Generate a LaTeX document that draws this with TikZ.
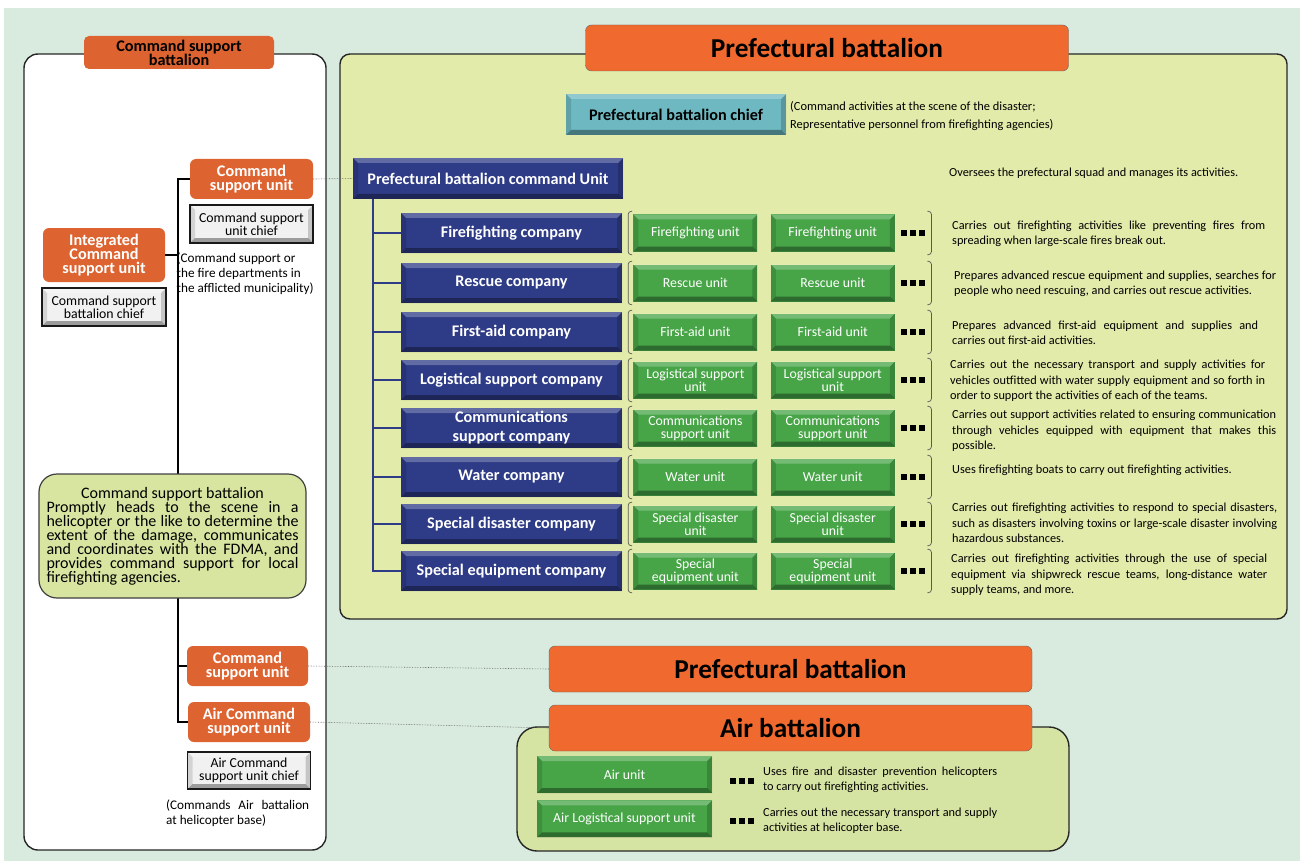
\documentclass[tikz,border=0pt]{standalone}
\usepackage{fontspec}
\setmainfont{Carlito}
\usepackage{tikz}
\usetikzlibrary{positioning}

\setlength{\parindent}{0pt}
\setlength{\lineskiplimit}{-50pt}

\definecolor{bgpale}{HTML}{D9EBDF}
\definecolor{panelyel}{HTML}{E2EBAA}
\definecolor{airpanel}{HTML}{D6E4A3}
\definecolor{descgreen}{HTML}{D7E5A1}
\definecolor{orangeD}{HTML}{DD6431}
\definecolor{orangeL}{HTML}{F06A2F}
\definecolor{navy}{HTML}{2E3B86}
\definecolor{unitgreen}{HTML}{47A547}
\definecolor{tealbox}{HTML}{6DB8C1}
\definecolor{chiefgray}{HTML}{F1F1F1}

\newcommand{\fdesc}{\fontsize{12.3}{15.3}\selectfont}
\newcommand{\fnote}{\fontsize{13.2}{15}\selectfont}
\newcommand{\funit}{\fontsize{13.8}{13.3}\selectfont}
\newcommand{\fchief}{\fontsize{13.8}{13.3}\selectfont}
\newcommand{\fcomp}{\fontsize{16.2}{19}\selectfont\bfseries}
\newcommand{\forange}{\fontsize{16.2}{14}\selectfont\bfseries}
\newcommand{\fpara}{\fontsize{16}{14}\selectfont}
\newcommand{\fbig}{\fontsize{27.3}{30}\selectfont\bfseries}

\newcommand{\sqdots}{\rule{6pt}{6pt}\hspace{3pt}\rule{6pt}{6pt}\hspace{3pt}\rule{6pt}{6pt}}

% brackets round the units of one row
\newcommand{\rowbrackets}[2]{%
  \draw[brk] ([xshift=-1pt,yshift=3pt]#1.north west) -- ([xshift=-5pt,yshift=3pt]#1.north west)
    -- ([xshift=-5pt,yshift=-3pt]#1.south west) -- ([xshift=-1pt,yshift=-3pt]#1.south west);
  \draw[brk] ([xshift=2pt,yshift=3pt]#2.north east) -- ([xshift=6pt,yshift=3pt]#2.north east)
    -- ([xshift=6pt,yshift=-3pt]#2.south east) -- ([xshift=2pt,yshift=-3pt]#2.south east);}

\tikzset{
  panelframe/.style={draw=black!85, line width=1.4pt},
  bevel/.style={path picture={
    \fill[black,opacity=.35] (path picture bounding box.south west) -- (path picture bounding box.south east)
      -- ([xshift=-5pt,yshift=5pt]path picture bounding box.south east) -- ([xshift=5pt,yshift=5pt]path picture bounding box.south west) -- cycle;
    \fill[black,opacity=.18] (path picture bounding box.south east) -- (path picture bounding box.north east)
      -- ([xshift=-5pt,yshift=-5pt]path picture bounding box.north east) -- ([xshift=-5pt,yshift=5pt]path picture bounding box.south east) -- cycle;
    \fill[white,opacity=.25] (path picture bounding box.north west) -- (path picture bounding box.north east)
      -- ([xshift=-5pt,yshift=-5pt]path picture bounding box.north east) -- ([xshift=5pt,yshift=-5pt]path picture bounding box.north west) -- cycle;
    \fill[black,opacity=.12] (path picture bounding box.south west) -- (path picture bounding box.north west)
      -- ([xshift=5pt,yshift=-5pt]path picture bounding box.north west) -- ([xshift=5pt,yshift=5pt]path picture bounding box.south west) -- cycle;
  }},
  cstag/.style={fill=orangeD, rounded corners=5pt, font=\forange, align=center, minimum width=190pt, minimum height=33pt, inner sep=1pt},
  titlebox/.style={fill=orangeL, draw=black!60, rounded corners=6pt, font=\fbig, minimum width=483pt, minimum height=46pt},
  orangeunit/.style={fill=orangeD, rounded corners=6pt, text=white, font=\forange, align=center, minimum width=123pt, minimum height=40pt, inner sep=1pt},
  chiefbox/.style={bevel, fill=chiefgray, draw=black!90, line width=1.6pt, font=\fchief, align=center, minimum width=123pt, minimum height=38pt, inner sep=1pt},
  pbchiefbox/.style={bevel, fill=tealbox, font=\fcomp, minimum width=220pt, minimum height=41pt},
  company/.style={bevel, fill=navy, text=white, font=\fcomp, align=center, minimum width=221pt, minimum height=40pt, inner sep=1pt},
  unit/.style={bevel, fill=unitgreen, text=white, font=\funit, align=center, minimum width=124pt, minimum height=37pt, inner sep=1pt},
  dotsbox/.style={inner sep=0pt, minimum height=37pt},
  desc/.style={font=\fdesc, align=justify, inner sep=0pt, anchor=west},
  treeline/.style={draw=black, line width=1.8pt},
  navline/.style={draw=navy, line width=2.2pt},
  link/.style={draw=black!60, densely dotted, line width=0.6pt},
  brk/.style={draw=black!65, line width=0.7pt, rounded corners=3pt},
}

\begin{document}
\begin{tikzpicture}[x=1pt,y=-1pt]
  \useasboundingbox (0,0) rectangle (1306,861);

  % Panels
  \fill[bgpale] (4,8) rectangle (1300,861);
  \draw[panelframe, fill=white, rounded corners=14pt] (24,54) rectangle (326,850);
  \draw[panelframe, fill=panelyel, rounded corners=10pt] (340,54) rectangle (1287,619);
  \draw[panelframe, fill=airpanel, rounded corners=20pt] (517,727) rectangle (1069,851);

  % Define nodes
  \node[cstag]                        (csbtag)  at (179,52.5) {Command support\\battalion};
  \node[titlebox]                     (pbtitle) at (827,48)   {Prefectural battalion};
  \node[pbchiefbox]                   (pbchief) at (676,114.5) {Prefectural battalion chief};
  \node[font=\fontsize{12.4}{18}\selectfont, align=left, anchor=west, inner sep=0pt]
                                      (pbchiefx) at (790,116) {(Command activities at the scene of the disaster;\\Representative personnel from firefighting agencies)};
  \node[company, minimum width=270pt, minimum height=41pt] (pbunit) at (488,178.5) {Prefectural battalion command Unit};
  \node[desc]                         (pbunitx) at (949,173) {Oversees the prefectural squad and manages its activities.};

  \node[company]                      (ff)  at (511.5,233) {Firefighting company};
  \node[unit, right=11pt of ff]       (ffa) {Firefighting unit};
  \node[unit, right=13pt of ffa]      (ffb) {Firefighting unit};
  \node[dotsbox, right=6pt of ffb]    (ffd) {\sqdots};
  \node[desc, text width=313pt]       (ffx) at (952,234) {Carries out firefighting activities like preventing fires from\linebreak spreading when large-scale fires break out.};

  \node[company]                      (rc)  at (511.5,283) {Rescue company};
  \node[unit, right=11pt of rc]       (rca) {Rescue unit};
  \node[unit, right=13pt of rca]      (rcb) {Rescue unit};
  \node[dotsbox, right=6pt of rcb]    (rcd) {\sqdots};
  \node[desc, text width=322pt]       (rcx) at (954,283.5) {Prepares advanced rescue equipment and supplies, searches for\linebreak people who need rescuing, and carries out rescue activities.};

  \node[company]                      (fa)  at (511.5,332) {First-aid company};
  \node[unit, right=11pt of fa]       (faa) {First-aid unit};
  \node[unit, right=13pt of faa]      (fab) {First-aid unit};
  \node[dotsbox, right=6pt of fab]    (fad) {\sqdots};
  \node[desc, text width=306pt]       (fax) at (952,333) {Prepares advanced first-aid equipment and supplies and\linebreak carries out first-aid activities.};

  \node[company]                      (ls)  at (511.5,380) {Logistical support company};
  \node[unit, right=11pt of ls]       (lsa) {Logistical support\\unit};
  \node[unit, right=13pt of lsa]      (lsb) {Logistical support\\unit};
  \node[dotsbox, right=6pt of lsb]    (lsd) {\sqdots};
  \node[desc, text width=315pt]       (lsx) at (950,381) {Carries out the necessary transport and supply activities for\linebreak vehicles outfitted with water supply equipment and so forth in\linebreak order to support the activities of each of the teams.};

  \node[company]                      (cm)  at (511.5,428) {Communications\\support company};
  \node[unit, right=11pt of cm]       (cma) {Communications\\support unit};
  \node[unit, right=13pt of cma]      (cmb) {Communications\\support unit};
  \node[dotsbox, right=6pt of cmb]    (cmd) {\sqdots};
  \node[desc, text width=324pt]       (cmx) at (952,431) {Carries out support activities related to ensuring communication\linebreak through vehicles equipped with equipment that makes this\linebreak possible.};

  \node[company]                      (wt)  at (511.5,477) {Water company};
  \node[unit, right=11pt of wt]       (wta) {Water unit};
  \node[unit, right=13pt of wta]      (wtb) {Water unit};
  \node[dotsbox, right=6pt of wtb]    (wtd) {\sqdots};
  \node[desc]                         (wtx) at (952,470) {Uses firefighting boats to carry out firefighting activities.};

  \node[company]                      (sd)  at (511.5,524) {Special disaster company};
  \node[unit, right=11pt of sd]       (sda) {Special disaster\\unit};
  \node[unit, right=13pt of sda]      (sdb) {Special disaster\\unit};
  \node[dotsbox, right=6pt of sdb]    (sdd) {\sqdots};
  \node[desc, text width=325pt]       (sdx) at (952,523) {Carries out firefighting activities to respond to special disasters,\linebreak such as disasters involving toxins or large-scale disaster involving\linebreak hazardous substances.};

  \node[company]                      (se)  at (511.5,571) {Special equipment company};
  \node[unit, right=11pt of se]       (sea) {Special\\equipment unit};
  \node[unit, right=13pt of sea]      (seb) {Special\\equipment unit};
  \node[dotsbox, right=6pt of seb]    (sed) {\sqdots};
  \node[desc, text width=316pt]       (sex) at (951,575) {Carries out firefighting activities through the use of special\linebreak equipment via shipwreck rescue teams, long-distance water\linebreak supply teams, and more.};

  \node[titlebox]                     (pbbottom) at (790.5,669) {Prefectural battalion};
  \node[titlebox]                     (airtitle) at (790.5,728) {Air battalion};
  \node[unit, minimum width=175pt]    (airu)  at (624.5,774.5) {Air unit};
  \node[unit, minimum width=175pt, below=7pt of airu] (airls) {Air Logistical support unit};
  \node[dotsbox, minimum height=0pt]  (airud) at (742,781) {\sqdots};
  \node[dotsbox, minimum height=0pt]  (airlsd) at (742,821) {\sqdots};
  \node[desc, text width=234pt]       (airux) at (763,780) {Uses fire and disaster prevention helicopters\linebreak to carry out firefighting activities.};
  \node[desc, text width=234pt]       (airlsx) at (763,820.5) {Carries out the necessary transport and supply\linebreak activities at helicopter base.};

  \node[orangeunit]                   (csu1) at (251.5,179) {Command\\support unit};
  \node[chiefbox, below=5pt of csu1]  (csu1chief) {Command support\\unit chief};
  \node[orangeunit, minimum width=122pt, minimum height=54pt] (icsu) at (104,255) {Integrated\\Command\\support unit};
  \node[chiefbox, minimum width=124pt, below=5pt of icsu] (csbchief) {Command support\\battalion chief};
  \node[orangeunit, minimum width=121pt] (csu2) at (247.5,666) {Command\\support unit};
  \node[orangeunit, minimum width=122pt] (acsu) at (249,722) {Air Command\\support unit};
  \node[chiefbox, minimum height=37pt, below=9pt of acsu] (acsuchief) {Air Command\\support unit chief};
  \node[font=\fnote, align=justify, text width=143pt, inner sep=0pt, anchor=west] (acsux) at (166,813) {(Commands Air battalion\linebreak at helicopter base)};

  % Connect the nodes
  \coordinate (trunk)  at (178,179);
  \coordinate (navtop) at (373,199);
  \draw[treeline] (csu1.west) -- (trunk) |- (acsu.west);
  \draw[treeline] (icsu.east) -- (icsu.east -| trunk);
  \draw[treeline] (csu2.west) -- (csu2.west -| trunk);

  \draw[navline] (navtop) |- (se.west);
  \draw[navline] (ff.west -| navtop) -- (ff.west);
  \draw[navline] (rc.west -| navtop) -- (rc.west);
  \draw[navline] (fa.west -| navtop) -- (fa.west);
  \draw[navline] (ls.west -| navtop) -- (ls.west);
  \draw[navline] (cm.west -| navtop) -- (cm.west);
  \draw[navline] (wt.west -| navtop) -- (wt.west);
  \draw[navline] (sd.west -| navtop) -- (sd.west);

  \draw[link] (csu1.east) -- (pbunit.west);
  \draw[link] (csu2.east) -- (pbbottom.west);
  \draw[link] (acsu.east) -- (airtitle.west);

  \rowbrackets{ffa}{ffd}
  \rowbrackets{rca}{rcd}
  \rowbrackets{faa}{fad}
  \rowbrackets{lsa}{lsd}
  \rowbrackets{cma}{cmd}
  \rowbrackets{wta}{wtd}
  \rowbrackets{sda}{sdd}
  \rowbrackets{sea}{sed}

  % Texts lying over the trunk
  \node[font=\fnote, align=left, anchor=west, inner sep=0pt] (icsux) at (176.5,274) {(Command support or\\the fire departments in\\the afflicted municipality)};
  \node[draw=black!75, line width=1.2pt, fill=descgreen, rounded corners=18pt, minimum width=267pt, minimum height=124pt,
        text width=252pt, align=justify, font=\fpara] (csbdesc) at (172.5,536)
        {\makebox[\linewidth]{Command support battalion}\linebreak Promptly heads to the scene in a\linebreak helicopter or the like to determine the\linebreak extent of the damage, communicates\linebreak and coordinates with the FDMA, and\linebreak provides command support for local\linebreak firefighting agencies.};

\end{tikzpicture}
\end{document}
